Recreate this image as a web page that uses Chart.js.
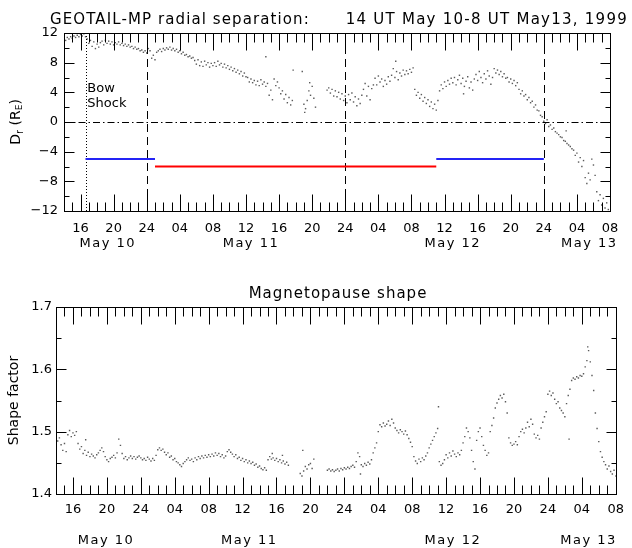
<!DOCTYPE html>
<html><head><meta charset="utf-8">
<script src="https://cdn.jsdelivr.net/npm/chart.js@4.4.1/dist/chart.umd.min.js"></script>
<style>
html,body{margin:0;padding:0;background:#fff;}
#wrap{position:relative;width:632px;height:548px;}
canvas{position:absolute;left:0;}
#c1{top:0;} #c2{top:262px;}
</style></head><body>
<div id="wrap"><canvas id="c1" width="632" height="262"></canvas><canvas id="c2" width="632" height="286"></canvas></div>
<script>
// ---------- data (hours since 14 UT May 10, 1999) ----------
const xMajorHours = [2,6,10,14,18,22,26,30,34,38,42,46,50,54,58,62,66];
const xTickLabels = ['16','20','24','04','08','12','16','20','24','04','08','12','16','20','24','04','08'];
const dayLabels = ['May 10','May 11','May 12','May 13'];
const dayLabelHoursTop = [5.3, 22.6, 47.0, 63.5];
const dayLabelHoursBottom = [5.9, 22.8, 46.8, 62.8];
const midnightHours = [10, 34, 58];
const bowShockHour = 2.7;
const blueSegment1 = [[2.6,-5],[11.0,-5]];
const redSegment = [[11.0,-6],[45.0,-6]];
const blueSegment2 = [[45.0,-5],[58.0,-5]];
const radialTicks = [-12,-8,-4,0,4,8,12];
const shapeTicks = [1.4,1.5,1.6,1.7];

const radialSep = [
[0,11.3],[0.2,11.0],[0.4,11.4],[0.6,11.2],[0.8,11.5],[1.0,11.3],[1.2,11.6],[1.4,11.4],[1.6,11.7],[1.8,11.5],[2.0,11.8],[2.2,11.6],[2.4,11.9],[2.6,11.5],
[2.8,11.2],[3.0,10.6],[3.2,11.0],[3.4,10.2],[3.6,10.8],[3.8,9.9],[4.0,10.5],[4.2,10.1],[4.4,10.7],
[4.6,10.9],[4.8,10.4],[5.0,11.0],[5.2,10.6],[5.4,10.9],[5.6,10.5],[5.8,10.8],[6.0,10.4],[6.2,10.7],[6.4,10.5],[6.6,10.8],[6.8,10.4],
[7.0,10.6],[7.2,10.3],[7.4,10.5],[7.6,10.2],[7.8,10.4],[8.0,10.1],[8.2,10.2],[8.4,9.9],[8.6,10.1],[8.8,9.8],[9.0,9.9],[9.2,9.6],[9.4,9.7],[9.6,9.4],[9.8,9.6],[10.0,9.3],
[10.2,9.9],[10.4,9.6],[10.6,8.6],[10.8,9.0],[11.0,8.4],[11.2,9.4],
[11.4,9.6],[11.6,9.8],[11.8,9.5],[12.0,9.9],[12.2,9.7],[12.4,10.0],[12.6,9.8],[12.8,10.1],[13.0,9.7],[13.2,9.9],[13.4,9.6],[13.6,9.8],
[13.8,9.4],[14.0,9.6],[14.2,9.2],[14.4,9.4],[14.6,9.0],[14.8,9.1],[15.0,8.8],[15.2,8.9],[15.4,8.6],[15.6,8.7],
[15.8,8.3],[16.0,7.8],[16.2,8.4],[16.4,7.6],[16.6,8.1],[16.8,7.5],[17.0,8.2],[17.2,7.7],[17.4,8.0],[17.6,7.4],[17.8,7.9],[18.0,7.6],
[18.2,8.0],[18.4,7.5],[18.6,8.2],[18.8,7.7],[19.0,7.9],[19.2,7.4],[19.4,7.8],[19.6,7.3],[19.8,7.6],[20.0,7.1],
[20.2,7.4],[20.4,6.9],[20.6,7.2],[20.8,6.7],[21.0,7.0],[21.2,6.5],[21.4,6.8],[21.6,6.2],[21.8,6.6],[22.0,6.1],
[22.2,6.0],[22.4,5.4],[22.6,5.8],[22.8,5.3],[23.0,5.6],[23.2,5.0],[23.4,5.5],[23.6,4.9],[23.8,5.7],[24.0,5.1],[24.2,5.4],[24.4,4.8],[24.6,5.2],
[24.8,3.6],[25.0,4.3],[25.2,3.0],[25.4,5.8],[25.6,4.9],[25.8,5.4],
[26.0,4.6],[26.2,3.8],[26.4,4.2],[26.6,3.1],[26.8,3.7],[27.0,2.6],[27.2,3.3],[27.4,2.3],[27.6,2.9],
[24.4,8.8],[27.7,7.0],
[28.8,6.8],[29.0,2.4],[29.1,1.3],[29.2,1.8],[29.4,2.9],[29.6,4.2],[29.7,5.3],[29.8,3.6],[30.0,4.8],[30.2,3.2],[30.4,2.0],
[31.8,4.3],[32.0,4.6],[32.2,3.9],[32.4,4.4],[32.6,3.5],[32.8,4.2],[33.0,3.4],[33.2,4.0],[33.4,3.1],[33.6,3.8],[33.8,2.9],[34.0,3.5],
[34.2,2.6],[34.4,3.7],[34.6,3.0],[34.8,3.9],[35.0,2.7],[35.2,3.4],[35.4,2.2],[35.6,3.1],[35.8,2.5],[36.0,3.6],
[36.2,4.4],[36.4,5.2],[36.6,3.5],[36.8,4.8],[37.0,3.0],[37.2,4.5],[37.4,5.0],
[37.6,5.9],[37.8,5.0],[38.0,6.2],[38.2,5.4],[38.4,5.8],[38.6,4.8],[38.8,5.6],[39.0,5.1],[39.2,6.1],[39.4,5.5],
[39.6,6.3],[39.8,7.2],[40.0,6.0],[40.2,6.8],[40.4,5.7],[40.6,6.6],[40.8,6.2],[41.0,7.0],[41.2,6.4],[41.4,6.9],[41.6,6.5],[41.8,7.1],[42.0,6.7],[42.2,7.3],[40.1,8.2],
[42.4,4.4],[42.6,3.6],[42.8,4.0],[43.0,3.2],[43.2,3.7],[43.4,2.8],[43.6,3.3],[43.8,2.5],[44.0,3.0],[44.2,2.1],[44.4,2.7],[44.6,1.8],[44.8,2.4],[45.0,1.6],[45.2,2.9],
[45.4,4.2],[45.6,5.0],[45.8,4.5],[46.0,5.4],[46.2,4.8],[46.4,5.6],[46.6,5.1],[46.8,5.9],[47.0,5.3],[47.2,6.0],[47.4,5.0],[47.6,5.7],[47.8,6.3],[48.0,5.2],[48.2,5.9],[48.4,4.8],[48.6,5.5],[48.3,3.8],
[48.8,6.1],[49.0,4.6],[49.2,5.4],[49.4,4.3],[49.6,5.8],
[49.8,6.4],[50.0,5.6],[50.2,6.8],[50.4,6.0],[50.6,5.3],[50.8,6.5],[51.0,5.8],[51.2,6.9],[51.4,6.2],[51.6,5.1],[51.8,6.0],
[52.0,7.2],[52.2,6.6],[52.4,7.0],[52.6,6.4],[52.8,6.8],[53.0,6.1],[53.2,6.5],[53.4,5.9],
[53.6,6.0],[53.8,5.4],[54.0,5.8],[54.2,5.2],[54.4,5.6],[54.6,4.9],[54.8,5.3],
[55.0,4.4],[55.2,3.8],[55.4,4.2],[55.6,3.5],[55.8,3.7],[56.0,3.0],[56.2,3.3],[56.4,2.6],[56.6,2.8],[56.8,2.0],[57.0,2.3],[57.2,1.6],[57.4,1.5],[57.6,0.9],[57.8,0.7],[58.0,0.1],
[58.2,-0.2],[58.4,0.3],[58.6,-0.6],[58.8,-0.4],[59.0,-1.0],[59.2,-0.8],[59.4,-1.3],[59.6,-1.5],[59.8,-1.7],[60.0,-2.0],[60.2,-2.1],[60.4,-2.5],[60.6,-2.6],[60.8,-2.9],[61.0,-3.1],[61.2,-3.3],[61.4,-3.6],[61.6,-3.8],[60.7,-1.2],
[61.8,-4.5],[62.0,-4.2],[62.2,-5.4],[62.4,-4.8],[62.6,-6.0],[62.8,-5.2],[63.0,-7.5],[63.2,-8.3],[63.4,-6.9],[63.6,-7.8],[63.8,-5.0],[64.0,-5.8],[64.2,-7.2],
[64.4,-9.4],[64.6,-10.6],[64.8,-9.8],[65.0,-11.2],[65.2,-10.3],[65.4,-11.6],[65.6,-10.9],[65.8,-11.8]
];

const shapeFactor = [
[0.0,1.497],[0.2,1.485],[0.4,1.490],[0.6,1.479],[0.8,1.470],[1.0,1.481],[1.2,1.468],
[1.4,1.495],[1.6,1.502],[1.8,1.492],[2.0,1.498],[2.2,1.494],[2.4,1.500],
[2.6,1.481],[2.8,1.472],[3.0,1.476],[3.2,1.465],
[3.4,1.470],[3.5,1.487],[3.6,1.462],[3.8,1.467],[4.0,1.460],[4.2,1.464],[4.4,1.461],
[4.6,1.458],[4.8,1.463],[5.0,1.466],[5.2,1.470],[5.4,1.474],[5.6,1.468],
[5.8,1.460],[6.0,1.455],[6.2,1.452],[6.4,1.457],
[6.6,1.459],[6.8,1.462],[7.0,1.458],[7.2,1.466],
[7.4,1.488],[7.6,1.478],
[7.8,1.465],[8.0,1.457],[8.2,1.460],[8.4,1.455],[8.6,1.458],[8.8,1.461],
[9.0,1.457],[9.2,1.460],[9.4,1.456],[9.6,1.459],[9.8,1.461],[10.0,1.458],[10.2,1.455],[10.4,1.457],[10.6,1.454],[10.8,1.459],[11.0,1.456],[11.2,1.453],[11.4,1.457],[11.6,1.454],[11.8,1.462],
[12.0,1.471],[12.2,1.474],[12.4,1.470],[12.6,1.472],[12.8,1.467],
[13.0,1.463],[13.2,1.466],[13.4,1.459],[13.6,1.461],[13.8,1.455],[14.0,1.457],[14.2,1.452],[14.4,1.450],[14.6,1.447],[14.8,1.444],[15.0,1.449],
[15.2,1.452],[15.4,1.455],[15.6,1.458],[15.8,1.454],
[16.0,1.456],[16.2,1.452],[16.4,1.458],[16.6,1.455],[16.8,1.460],
[17.0,1.457],[17.2,1.461],[17.4,1.458],[17.6,1.462],[17.8,1.459],[18.0,1.463],[18.2,1.460],[18.4,1.464],[18.6,1.461],[18.8,1.466],[19.0,1.462],[19.2,1.465],[19.4,1.460],[19.6,1.463],[19.8,1.458],[20.0,1.461],
[20.2,1.468],[20.4,1.471],[20.6,1.467],[20.8,1.464],
[21.0,1.460],[21.2,1.463],[21.4,1.457],[21.6,1.459],[21.8,1.454],[22.0,1.457],[22.2,1.452],[22.4,1.455],[22.6,1.450],
[22.8,1.453],[23.0,1.449],[23.2,1.451],[23.4,1.446],[23.6,1.448],[23.8,1.443],[24.0,1.445],[24.2,1.441],[24.4,1.439],[24.6,1.442],[24.8,1.438],
[25.0,1.455],[25.2,1.460],[25.4,1.456],[25.5,1.465],[25.6,1.458],[25.8,1.454],[26.0,1.457],[26.2,1.452],[26.4,1.455],[26.6,1.450],[26.7,1.462],[26.8,1.453],[27.0,1.448],[27.2,1.451],[27.4,1.446],
[28.8,1.433],[29.0,1.429],[29.1,1.470],[29.2,1.437],[29.4,1.444],[29.6,1.440],[29.8,1.447],[30.0,1.449],[30.2,1.441],[30.4,1.456],
[32.0,1.438],[32.2,1.440],[32.4,1.437],[32.6,1.439],[32.8,1.436],[33.0,1.438],[33.2,1.440],[33.4,1.437],[33.6,1.441],[33.8,1.439],[34.0,1.442],[34.2,1.440],[34.4,1.443],[34.6,1.441],[34.8,1.444],[35.0,1.446],[35.2,1.443],
[35.4,1.452],[35.6,1.466],[35.8,1.460],[35.9,1.432],
[36.0,1.447],[36.2,1.444],[36.4,1.449],[36.6,1.446],[36.8,1.451],[37.0,1.448],[37.2,1.455],
[37.4,1.466],[37.6,1.474],[37.8,1.482],
[38.0,1.500],[38.2,1.511],[38.4,1.508],[38.6,1.514],[38.8,1.509],
[39.0,1.512],[39.2,1.517],[39.4,1.510],[39.6,1.520],[39.8,1.514],[40.0,1.506],
[40.2,1.502],[40.4,1.498],[40.6,1.503],[40.8,1.500],[41.0,1.496],[41.2,1.501],
[41.4,1.495],[41.6,1.489],[41.8,1.483],[42.0,1.476],
[42.2,1.460],[42.4,1.453],[42.6,1.449],[42.8,1.456],
[43.0,1.452],[43.2,1.458],[43.4,1.455],[43.6,1.461],[43.8,1.466],
[44.0,1.474],[44.2,1.480],[44.4,1.486],[44.6,1.492],[44.8,1.498],[45.0,1.505],[45.1,1.540],
[45.2,1.452],[45.4,1.446],[45.6,1.449],[45.8,1.455],
[46.0,1.463],[46.2,1.458],[46.4,1.466],[46.6,1.461],[46.8,1.469],[47.0,1.464],[47.2,1.460],[47.4,1.466],[47.6,1.463],[47.8,1.470],
[48.0,1.482],[48.2,1.492],[48.4,1.506],[48.6,1.500],
[48.8,1.490],[49.0,1.470],[49.2,1.452],[49.4,1.440],
[49.6,1.486],[49.8,1.500],[50.0,1.506],[50.2,1.492],
[50.4,1.478],[50.6,1.470],[50.8,1.462],[51.0,1.466],
[51.2,1.500],[51.4,1.510],[51.6,1.522],[51.8,1.538],[52.0,1.546],
[52.2,1.552],[52.4,1.558],[52.6,1.554],[52.8,1.560],[53.0,1.548],[53.2,1.530],
[53.4,1.490],[53.6,1.482],[53.8,1.478],[54.0,1.480],[54.2,1.484],[54.4,1.479],
[54.6,1.492],[54.8,1.500],[55.0,1.504],[55.2,1.498],[55.4,1.506],
[55.6,1.515],[55.8,1.508],[56.0,1.520],[56.2,1.512],
[56.4,1.496],[56.6,1.490],[56.8,1.494],[57.0,1.488],
[57.2,1.506],[57.4,1.515],[57.6,1.524],[57.8,1.532],
[58.0,1.560],[58.2,1.565],[58.4,1.558],[58.6,1.562],
[58.8,1.552],[59.0,1.545],[59.2,1.548],[59.4,1.538],[59.6,1.534],
[59.8,1.530],[60.0,1.524],
[60.2,1.545],[60.4,1.558],[60.5,1.488],[60.6,1.568],
[60.8,1.582],[61.0,1.586],[61.2,1.584],[61.4,1.588],[61.6,1.586],[61.8,1.590],[62.0,1.589],[62.2,1.593],
[62.4,1.604],[62.6,1.614],[62.7,1.636],[62.8,1.630],
[63.0,1.612],[63.2,1.590],[63.4,1.566],
[63.6,1.530],[63.8,1.505],
[64.0,1.484],[64.2,1.468],[64.4,1.459],
[64.6,1.452],[64.8,1.447],[65.0,1.440],[65.2,1.445],[65.4,1.436],[65.6,1.432],[65.8,1.438],[66.0,1.429]
];

// ---------- helpers ----------
Chart.defaults.font.family = 'DejaVu Sans';
Chart.defaults.color = '#000';
const FONT = 'DejaVu Sans';
const toXY = arr => arr.map(p => ({x: p[0], y: p[1]}));

function line(ctx, x1, y1, x2, y2) { ctx.beginPath(); ctx.moveTo(x1, y1); ctx.lineTo(x2, y2); ctx.stroke(); }

const deco = {
  id: 'deco',
  beforeDatasetsDraw(chart, args, o) {
    const {ctx, chartArea: a, scales: {x, y}} = chart;
    ctx.save();
    ctx.strokeStyle = '#000'; ctx.lineWidth = 1;
    (o.vDash || []).forEach(h => {
      const px = Math.round(x.getPixelForValue(h)) + 0.5;
      ctx.setLineDash([8, 5]); line(ctx, px, a.top, px, a.bottom);
    });
    if (o.vDot != null) {
      const px = Math.round(x.getPixelForValue(o.vDot)) + 0.5;
      ctx.setLineDash([1, 2]); line(ctx, px, a.top, px, a.bottom);
    }
    if (o.hDashDot != null) {
      const py = Math.round(y.getPixelForValue(o.hDashDot)) + 0.5;
      ctx.setLineDash([7, 3, 1.5, 3]); line(ctx, a.left, py, a.right, py);
    }
    ctx.restore();
  },
  afterDatasetsDraw(chart, args, o) {
    const {ctx, chartArea: a, scales: {x, y}} = chart;
    ctx.save();
    ctx.strokeStyle = '#000'; ctx.lineWidth = 1; ctx.setLineDash([]);
    const L = Math.round(a.left) + 0.5, R = Math.round(a.right) + 0.5;
    const T = Math.round(a.top) + 0.5, B = Math.round(a.bottom) + 0.5;
    ctx.strokeRect(L, T, R - L, B - T);
    for (let h = x.min; h <= x.max; h++) {
      const px = Math.round(x.getPixelForValue(h)) + 0.5;
      const len = ((h - 2) % 4 === 0) ? 17 : 9;
      line(ctx, px, B, px, B - len);
      line(ctx, px, T, px, T + len);
    }
    const n = Math.round((y.max - y.min) / o.yMinor);
    for (let i = 0; i <= n; i++) {
      const v = y.min + i * o.yMinor;
      const py = Math.round(y.getPixelForValue(v)) + 0.5;
      const len = (i % 2 === 0) ? 10 : 5;
      line(ctx, L, py, L + len, py);
      line(ctx, R, py, R - len, py);
    }
    ctx.fillStyle = '#000';
    ctx.textBaseline = 'alphabetic';
    ctx.font = '15px "' + FONT + '"';
    (o.titles || []).forEach(t => {
      ctx.letterSpacing = t.sp;
      ctx.textAlign = t.align;
      ctx.fillText(t.text, t.x, t.y);
    });
    ctx.font = '13px "' + FONT + '"';
    ctx.letterSpacing = '1.5px';
    ctx.textAlign = 'center'; ctx.textBaseline = 'middle';
    dayLabels.forEach((d, i) => ctx.fillText(d, x.getPixelForValue(o.dayHours[i]), a.bottom + o.dayOffset));
    ctx.letterSpacing = '0px';
    ctx.save();
    ctx.translate(o.yTitleX, (a.top + a.bottom) / 2);
    ctx.rotate(-Math.PI / 2);
    ctx.textBaseline = 'middle'; ctx.textAlign = 'left';
    let w = 0;
    o.yTitle.forEach(s => { ctx.font = s.f + 'px "' + FONT + '"'; w += ctx.measureText(s.t).width; });
    let cx = -w / 2;
    o.yTitle.forEach(s => { ctx.font = s.f + 'px "' + FONT + '"'; ctx.fillText(s.t, cx, s.dy); cx += ctx.measureText(s.t).width; });
    ctx.restore();
    if (o.bow) {
      ctx.font = '13px "' + FONT + '"'; ctx.textAlign = 'left'; ctx.textBaseline = 'alphabetic';
      const bx = x.getPixelForValue(o.bow.h) + 1;
      ctx.fillText('Bow', bx, y.getPixelForValue(o.bow.v));
      ctx.fillText('Shock', bx, y.getPixelForValue(o.bow.v) + 15);
    }
    ctx.restore();
  }
};

function xScale(height, pad) {
  return {
    type: 'linear', min: 0, max: 66,
    grid: {display: false, drawTicks: false}, border: {display: false},
    afterBuildTicks: s => { s.ticks = xMajorHours.map(v => ({value: v})); },
    afterFit: s => { s.height = height; },
    ticks: {autoSkip: false, maxRotation: 0, padding: pad, font: {size: 13},
      callback: (v, i) => xTickLabels[i]}
  };
}

const dotStyle = {pointStyle: 'rect', pointRadius: 1.0, pointBackgroundColor: 'rgba(20,20,20,0.7)', pointBorderWidth: 0, showLine: false};

new Chart(document.getElementById('c1'), {
  type: 'scatter',
  data: {datasets: [
    Object.assign({label: 'Dr', data: toXY(radialSep)}, dotStyle),
    {type: 'line', data: toXY(blueSegment1), borderColor: '#2424f5', borderWidth: 2, pointRadius: 0},
    {type: 'line', data: toXY(redSegment), borderColor: '#ff0000', borderWidth: 2, pointRadius: 0},
    {type: 'line', data: toXY(blueSegment2), borderColor: '#2424f5', borderWidth: 2, pointRadius: 0}
  ]},
  options: {
    responsive: false, animation: false, devicePixelRatio: 1,
    layout: {padding: {left: 0, right: 22, top: 33, bottom: 0}},
    scales: {
      x: xScale(51, 10),
      y: {type: 'linear', min: -12, max: 12,
        grid: {display: false, drawTicks: false}, border: {display: false},
        afterBuildTicks: s => { s.ticks = radialTicks.map(v => ({value: v})); },
        afterFit: s => { s.width = 64; },
        ticks: {padding: 6, font: {size: 13}, callback: v => String(v).replace('-', '\u2212')}}
    },
    plugins: {
      legend: {display: false}, tooltip: {enabled: false},
      deco: {
        vDash: midnightHours, vDot: bowShockHour, hDashDot: 0, yMinor: 2,
        titles: [
          {text: 'GEOTAIL-MP radial separation:', x: 50, y: 24, align: 'left', sp: '1.1px'},
          {text: '14 UT May 10-8 UT May13, 1999', x: 628, y: 24, align: 'right', sp: '1.25px'}
        ],
        dayHours: dayLabelHoursTop, dayOffset: 33,
        yTitleX: 16,
        yTitle: [{t: 'D', f: 14, dy: 0}, {t: 'r', f: 10, dy: 4}, {t: ' (R', f: 14, dy: 0}, {t: 'E', f: 9, dy: 4}, {t: ')', f: 14, dy: 0}],
        bow: {h: 2.7, v: 4.0}
      }
    }
  },
  plugins: [deco]
});

new Chart(document.getElementById('c2'), {
  type: 'scatter',
  data: {datasets: [Object.assign({label: 'Shape', data: toXY(shapeFactor)}, dotStyle)]},
  options: {
    responsive: false, animation: false, devicePixelRatio: 1,
    layout: {padding: {left: 0, right: 10, top: 45, bottom: 0}},
    scales: {
      x: xScale(54, 8),
      y: {type: 'linear', min: 1.4, max: 1.7,
        grid: {display: false, drawTicks: false}, border: {display: false},
        afterBuildTicks: s => { s.ticks = shapeTicks.map(v => ({value: v})); },
        afterFit: s => { s.width = 56; },
        ticks: {padding: 4, font: {size: 13}, callback: v => Number(v).toFixed(1)}}
    },
    plugins: {
      legend: {display: false}, tooltip: {enabled: false},
      deco: {
        yMinor: 0.05,
        titles: [{text: 'Magnetopause shape', x: 338, y: 36, align: 'center', sp: '1px'}],
        dayHours: dayLabelHoursBottom, dayOffset: 47,
        yTitleX: 14,
        yTitle: [{t: 'Shape factor', f: 14, dy: 0}]
      }
    }
  },
  plugins: [deco]
});
</script>
</body></html>
